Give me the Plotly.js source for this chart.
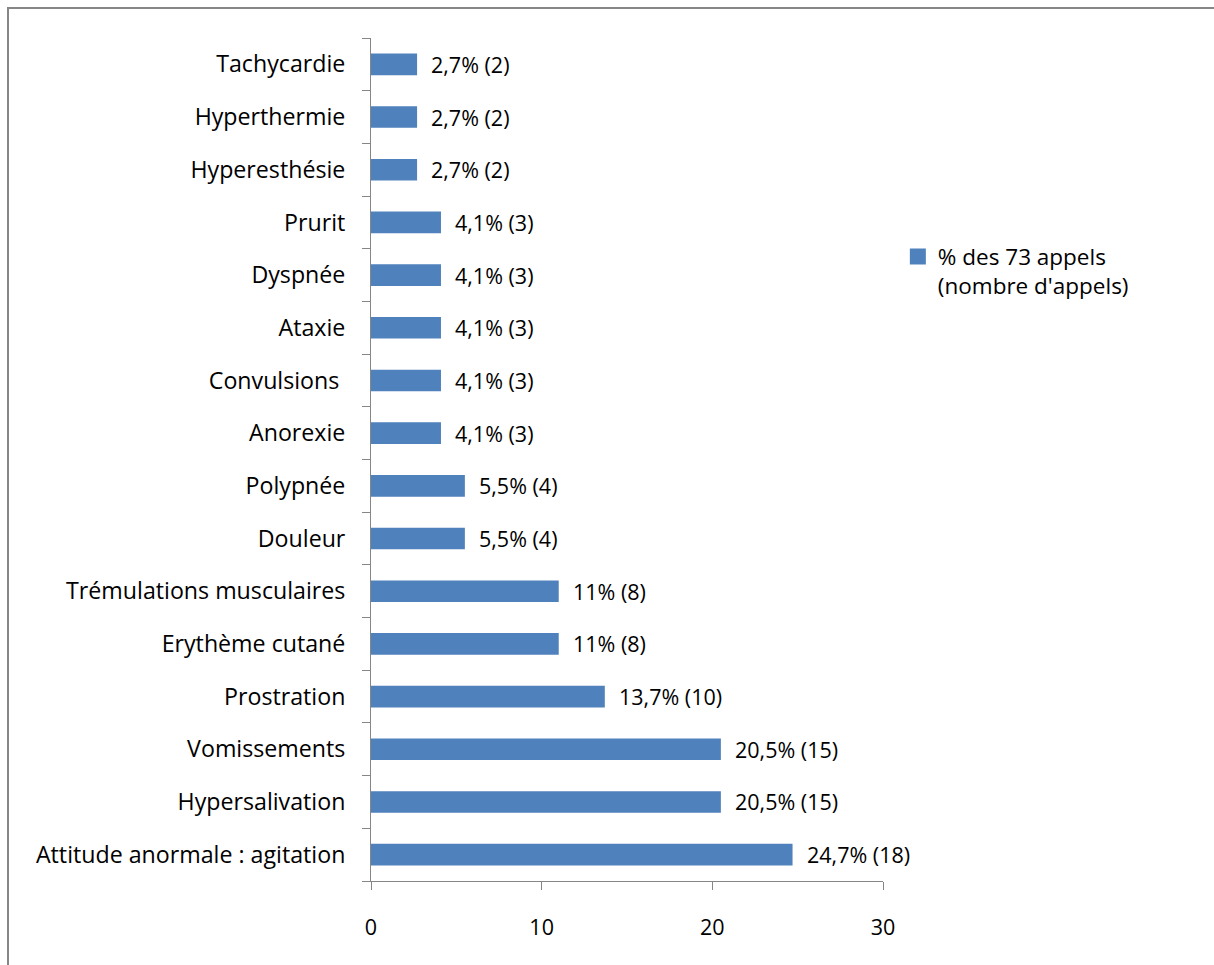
<!DOCTYPE html>
<html>
<head>
<meta charset="utf-8">
<script src="https://cdn.plot.ly/plotly-3.0.1.min.js"></script>
<style>
  html, body { margin: 0; padding: 0; background: #ffffff; }
  #chart { width: 1214px; height: 965px; }
</style>
</head>
<body>
<div id="chart"></div>
<script>
// Signes cliniques, du bas vers le haut de l'axe
const symptoms = [
  "Attitude anormale : agitation",
  "Hypersalivation",
  "Vomissements",
  "Prostration",
  "Erythème cutané",
  "Trémulations musculaires",
  "Douleur",
  "Polypnée",
  "Anorexie",
  "Convulsions\u00a0",
  "Ataxie",
  "Dyspnée",
  "Prurit",
  "Hyperesthésie",
  "Hyperthermie",
  "Tachycardie"
];
// Pourcentage des 73 appels
const percentCalls = [24.7, 20.5, 20.5, 13.7, 11, 11, 5.5, 5.5, 4.1, 4.1, 4.1, 4.1, 4.1, 2.7, 2.7, 2.7];
// Nombre d'appels
const callCounts = [18, 15, 15, 10, 8, 8, 4, 4, 3, 3, 3, 3, 3, 2, 2, 2];
const xTicks = [0, 10, 20, 30];

const FONT = "Open Sans, sans-serif";
const AXIS_GREY = "#868686";
const BAR_BLUE = "#4F81BD";
const SERIES_NAME = "% des 73 appels<br>(nombre d'appels)";

const labels = percentCalls.map((p, i) =>
  String(p).replace(".", ",") + "% (" + callCounts[i] + ")");

const bars = {
  type: "bar",
  orientation: "h",
  x: percentCalls,
  y: symptoms,
  name: SERIES_NAME,
  marker: { color: BAR_BLUE, line: { width: 0 } },
  hoverinfo: "skip",
  showlegend: false
};

// Legend entry with a larger square key
const legendKey = {
  type: "scatter",
  mode: "markers",
  x: [null], y: [null],
  name: SERIES_NAME,
  marker: { symbol: "square", size: 16, color: BAR_BLUE },
  hoverinfo: "skip",
  showlegend: true
};

const annotations = percentCalls.map((p, i) => ({
  x: p, y: symptoms[i], xref: "x", yref: "y",
  text: labels[i], showarrow: false,
  xanchor: "left", yanchor: "middle", xshift: 12,
  font: { family: FONT, size: 21.5, color: "#000000" }
}));

const layout = {
  width: 1214, height: 965,
  margin: { l: 371, r: 331, t: 38, b: 84, pad: 0 },
  paper_bgcolor: "#ffffff",
  plot_bgcolor: "#ffffff",
  bargap: 0.59,
  font: { family: FONT, color: "#000000" },
  xaxis: {
    range: [0, 30],
    tickmode: "array", tickvals: xTicks, ticktext: xTicks.map(String),
    ticks: "outside", ticklen: 8, tickwidth: 1, tickcolor: AXIS_GREY,
    showline: true, linecolor: AXIS_GREY, linewidth: 1,
    showgrid: false, zeroline: false,
    tickfont: { family: FONT, size: 21.5, color: "#000000" },
    ticklabelstandoff: 19,
    fixedrange: true
  },
  yaxis: {
    type: "category",
    categoryorder: "array", categoryarray: symptoms,
    range: [-0.5, symptoms.length - 0.5],
    tickson: "boundaries",
    ticks: "outside", ticklen: 8, tickwidth: 1, tickcolor: AXIS_GREY,
    showline: true, linecolor: AXIS_GREY, linewidth: 1,
    showgrid: false, zeroline: false,
    tickfont: { family: FONT, size: 23.2, color: "#000000" },
    ticklabelstandoff: 20,
    fixedrange: true
  },
  legend: {
    x: 1.029, y: 0.766, xanchor: "left", yanchor: "top",
    valign: "top",
    font: { family: FONT, size: 22.5, color: "#000000" },
    bgcolor: "rgba(0,0,0,0)",
    itemclick: false, itemdoubleclick: false
  },
  annotations: annotations,
  shapes: [{
    type: "rect", xref: "paper", yref: "paper",
    x0: (8 - 371) / 512, x1: 2, y0: -0.2, y1: (881 - 8) / 843,
    line: { color: AXIS_GREY, width: 2 },
    fillcolor: "rgba(0,0,0,0)", layer: "below"
  }]
};

Plotly.newPlot("chart", [bars, legendKey], layout, { staticPlot: true, displayModeBar: false });
</script>
</body>
</html>
